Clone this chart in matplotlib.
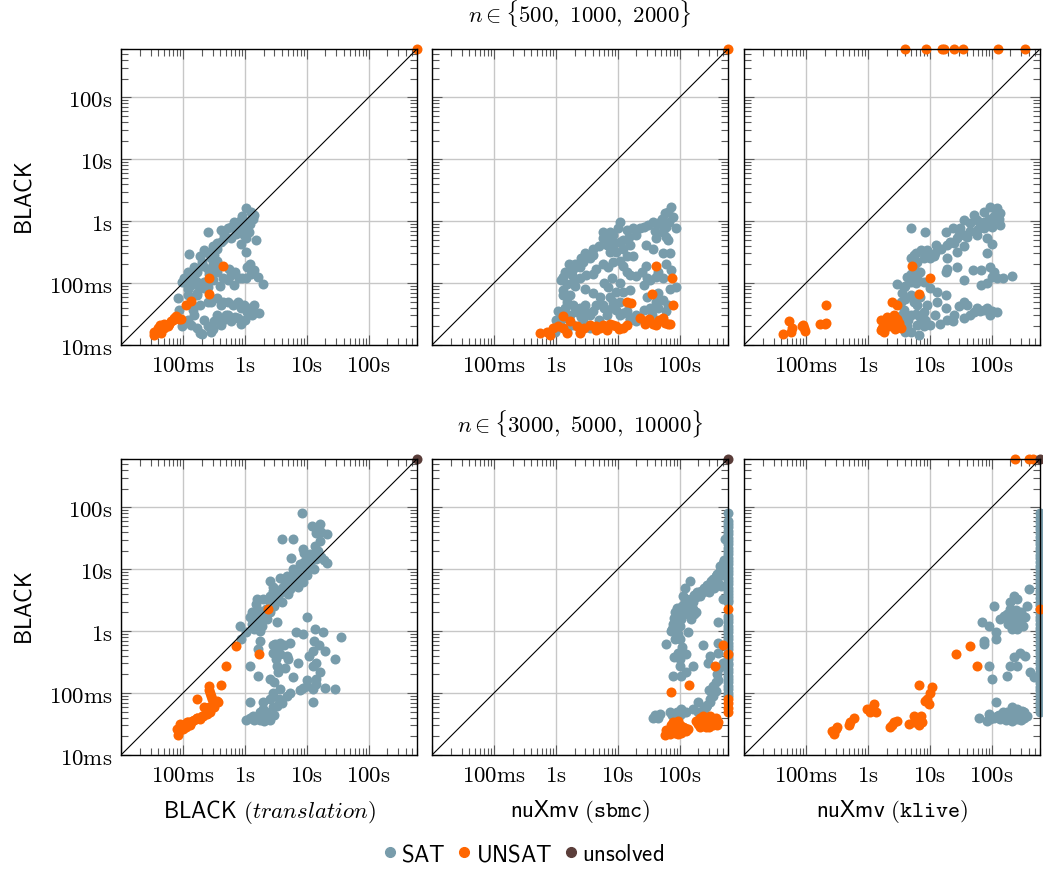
import numpy as np
import matplotlib
matplotlib.use("Agg")
import matplotlib.pyplot as plt
from matplotlib.ticker import FixedLocator, LogLocator, NullFormatter
from matplotlib.lines import Line2D

plt.rcParams["mathtext.fontset"] = "cm"

TIMEOUT = 600
SAT_COLOR = "#789cab"
UNSAT_COLOR = "#ff6600"
UNSOLVED_COLOR = "#5b3e3a"

tick_vals = [0.01, 0.1, 1, 10, 100]
tick_names = ["10ms", "100ms", "1s", "10s", "100s"]
row_titles = [r"$n \in \{500,\ 1000,\ 2000\}$", r"$n \in \{3000,\ 5000,\ 10000\}$"]
col_xlabels = [r"$\mathsf{BLACK}\ (\mathit{translation})$",
               r"$\mathsf{nuXmv}\ (\mathtt{sbmc})$",
               r"$\mathsf{nuXmv}\ (\mathtt{klive})$"]
ylabel = r"$\mathsf{BLACK}$"

# (other tool runtime [s], BLACK runtime [s])
# ---- n in {500, 1000, 2000}, BLACK (translation)
top_trans_sat = [
    (1.04, 1.6), (1.25, 1.41), (1.33, 1.1), (1.41, 1.25), (1.1, 0.98), (0.98, 0.76),
    (1.17, 0.67), (0.86, 1.04), (0.67, 0.98), (0.81, 0.81), (0.71, 0.63), (0.53, 0.76),
    (0.41, 0.71), (0.46, 0.59), (0.59, 0.53), (0.41, 0.46), (0.25, 0.67), (0.36, 0.36),
    (0.28, 0.32), (0.22, 0.34), (0.19, 0.27), (0.127, 0.29), (0.28, 0.25), (0.36, 0.23),
    (0.32, 0.19), (0.25, 0.17), (0.21, 0.19), (0.17, 0.15), (0.119, 0.15), (0.105, 0.119),
    (0.098, 0.105), (0.135, 0.093), (0.17, 0.105), (0.22, 0.082), (0.17, 0.064),
    (0.119, 0.064), (0.082, 0.057), (0.087, 0.037), (0.143, 0.037), (0.19, 0.044),
    (0.28, 0.05), (0.36, 0.057), (0.41, 0.044), (0.53, 0.05), (0.76, 0.05), (0.98, 0.044),
    (1.25, 0.0345), (1.7, 0.033), (0.76, 0.027), (0.53, 0.03), (0.41, 0.021), (0.32, 0.024),
    (0.25, 0.02), (0.17, 0.0186), (0.135, 0.021), (0.098, 0.02), (0.2, 0.015), (0.19, 0.0154),
    (0.28, 0.0164), (0.59, 0.024), (0.86, 0.022), (1.1, 0.0345), (1.41, 0.044), (1.1, 0.18),
    (1.25, 0.14), (1.6, 0.126), (1.93, 0.098), (1.04, 0.119), (0.81, 0.119), (0.67, 0.093),
    (1.04, 0.32), (0.86, 0.43), (1.5, 0.49), (1.04, 0.53), (0.59, 0.135), (0.53, 0.11),
    (0.36, 0.15), (0.26, 0.14), (0.22, 0.105),
    (0.9, 1.2), (1.2, 0.9), (1.3, 1.3), (0.95, 0.6), (0.75, 0.7), (0.6, 0.8), (0.5, 0.55),
    (0.45, 0.5), (0.35, 0.45), (0.3, 0.4), (0.32, 0.28), (0.25, 0.3), (0.2, 0.22), (0.15, 0.18),
    (0.13, 0.13), (0.11, 0.1), (0.15, 0.12), (0.3, 0.2), (0.18, 0.09), (0.12, 0.08), (0.25, 0.05),
    (0.45, 0.05), (0.65, 0.045), (0.85, 0.04), (1.2, 0.04), (0.5, 0.03), (0.7, 0.028),
    (1.0, 0.025), (0.35, 0.03), (0.22, 0.025), (0.15, 0.03), (0.12, 0.025), (0.3, 0.018),
    (0.45, 0.025), (1.3, 0.03), (0.14, 0.045), (0.55, 0.17), (0.7, 0.15), (0.9, 0.12),
    (1.2, 0.2), (1.4, 0.16), (0.45, 0.12), (0.4, 0.09), (0.3, 0.11), (0.17, 0.07), (0.25, 0.085),
]
top_trans_unsat = [
    (0.44, 0.19), (0.26, 0.119), (0.26, 0.067), (0.112, 0.044), (0.135, 0.051),
    (0.0725, 0.027), (0.087, 0.026), (0.064, 0.024), (0.05, 0.022), (0.044, 0.02),
    (0.039, 0.0186), (0.0345, 0.0164), (0.0345, 0.0145), (0.044, 0.0154), (0.057, 0.02),
    (0.077, 0.029), (0.093, 0.026), (0.042, 0.021), (0.05, 0.0186), (0.06, 0.022),
    (0.068, 0.025), (TIMEOUT, TIMEOUT),
]
top_trans_unsolved = []

# ---- n in {500, 1000, 2000}, nuXmv (sbmc)
top_sbmc_sat = [
    (73, 1.7), (64, 1.41), (78, 1.17), (57, 1.33), (51, 1.1), (45, 0.92), (60, 0.81),
    (54, 0.67), (37, 0.98), (31, 0.86), (26, 0.81), (22.6, 0.76), (17.7, 0.76), (13.8, 0.71),
    (10.8, 0.98), (10, 0.76), (8.4, 0.59), (7.4, 0.67), (5.8, 0.67), (5.8, 0.53), (6.6, 0.41),
    (8.4, 0.41), (10.8, 0.46), (12.2, 0.36), (9.5, 0.32), (7.4, 0.32), (15.6, 0.41),
    (17.7, 0.27), (13.8, 0.27), (10.8, 0.23), (8.4, 0.22), (7.0, 0.18), (5.8, 0.2), (4.5, 0.17),
    (4.0, 0.28), (3.5, 0.25), (2.76, 0.22), (2.44, 0.18), (1.9, 0.17), (1.79, 0.135),
    (1.31, 0.126), (1.49, 0.098), (1.9, 0.105), (2.44, 0.119), (3.1, 0.135), (4.0, 0.14),
    (1.31, 0.077), (1.31, 0.064), (1.68, 0.064), (1.49, 0.05), (1.9, 0.044), (2.44, 0.039),
    (3.1, 0.0345), (2.2, 0.0345), (1.68, 0.03), (1.31, 0.027), (4.0, 0.068), (5.1, 0.06),
    (7.4, 0.06), (7.0, 0.087), (9.5, 0.0725), (12.2, 0.0725), (15.6, 0.077), (13.8, 0.15),
    (15.6, 0.135), (10.8, 0.05), (8.4, 0.05), (5.8, 0.044), (4.5, 0.044), (3.5, 0.03),
    (2.76, 0.025), (1.9, 0.021), (1.49, 0.0186), (1.16, 0.022), (1.02, 0.025), (0.96, 0.0164),
    (1.49, 0.0164), (2.44, 0.0164), (3.5, 0.0186), (6.6, 0.03), (9.5, 0.037), (12.2, 0.033),
    (15.6, 0.027), (26, 0.037), (33, 0.039), (42, 0.05), (54, 0.053), (64, 0.044), (26, 0.093),
    (33, 0.11), (42, 0.126), (54, 0.119), (73, 0.16), (88, 0.087), (29, 0.19), (54, 0.3),
    (37, 0.36), (29, 0.41), (42, 0.53), (60, 0.56), (68, 0.98), (88, 0.76), (12.2, 0.19),
    (15.6, 0.025), (20, 0.024),
    (50, 0.9), (40, 0.7), (20, 0.6), (15, 0.55), (12, 0.5), (9, 0.45), (7, 0.5), (5, 0.4),
    (4, 0.35), (3, 0.3), (2.5, 0.25), (2, 0.2), (1.6, 0.2), (1.4, 0.15), (1.2, 0.11), (2.0, 0.09),
    (3, 0.08), (6, 0.1), (8, 0.12), (11, 0.1), (20, 0.13), (25, 0.15), (30, 0.12), (45, 0.15),
    (60, 0.2), (70, 0.3), (65, 0.5), (2, 0.04), (3, 0.045), (4, 0.035), (6, 0.04), (8, 0.04),
    (11, 0.03), (14, 0.035), (20, 0.03), (35, 0.03), (45, 0.04), (60, 0.035), (1.1, 0.035),
    (1.4, 0.04), (2.5, 0.028), (5, 0.025), (30, 0.06), (45, 0.07), (70, 0.08),
]
top_sbmc_unsat = [
    (42, 0.19), (75, 0.119), (36, 0.067), (13.8, 0.05), (16.6, 0.047), (78, 0.044),
    (1.31, 0.029), (0.55, 0.0154), (0.71, 0.016), (0.8, 0.0145), (0.91, 0.0186), (1.31, 0.0186),
    (1.68, 0.024), (2.2, 0.02), (2.44, 0.0154), (1.49, 0.0154), (4.5, 0.02), (5.8, 0.021),
    (7.4, 0.022), (9.5, 0.02), (12.2, 0.0186), (5.1, 0.0186), (6.6, 0.0175), (8.4, 0.021),
    (4.5, 0.0175), (22.6, 0.027), (29, 0.024), (37, 0.022), (47, 0.025), (54, 0.027),
    (64, 0.022), (42, 0.021), (27, 0.022), (1.1, 0.02), (2.8, 0.019), (3.5, 0.021),
    (10.5, 0.018), (14, 0.021), (32, 0.026), (58, 0.023), (70, 0.022), (TIMEOUT, TIMEOUT),
]
top_sbmc_unsolved = []

# ---- n in {500, 1000, 2000}, nuXmv (klive)
top_klive_sat = [
    (95, 1.7), (122, 1.47), (138, 1.33), (74, 1.41), (51, 1.25), (58, 1.04), (74, 0.98),
    (101, 1.04), (138, 0.86), (45, 0.92), (35, 1.04), (31, 0.76), (24, 0.76), (35, 0.59),
    (27.6, 0.53), (21.5, 0.46), (18, 0.67), (19.2, 0.41), (35, 0.39), (58, 0.59), (84, 0.53),
    (101, 0.43), (74, 0.76), (4.9, 0.76), (8.5, 0.67), (12.4, 0.41), (9.0, 0.34), (7.1, 0.34),
    (5.5, 0.28), (4.9, 0.25), (6.2, 0.22), (8.0, 0.25), (11.6, 0.27), (19.2, 0.25), (18, 0.15),
    (19.2, 0.17), (27.6, 0.18), (35, 0.11), (66, 0.16), (95, 0.18), (101, 0.126), (84, 0.1),
    (122, 0.119), (213, 0.13), (66, 0.093), (4.3, 0.126), (3.0, 0.098), (3.8, 0.087),
    (4.9, 0.105), (6.2, 0.126), (8.0, 0.105), (10.2, 0.082), (13, 0.0725), (18, 0.064),
    (13, 0.05), (4.9, 0.064), (3.4, 0.05), (3.8, 0.037), (4.9, 0.03), (3.4, 0.027), (6.2, 0.044),
    (8.0, 0.0345), (8.5, 0.025), (6.2, 0.021), (4.3, 0.02), (3.0, 0.024), (4.9, 0.0164),
    (6.6, 0.0145), (10.2, 0.021), (14.8, 0.022), (19.2, 0.025), (24, 0.024), (35, 0.027),
    (35, 0.05), (40, 0.044), (51, 0.0345), (74, 0.037), (95, 0.03), (122, 0.0345), (58, 0.039),
    (18, 0.039), (27.6, 0.32), (84, 0.3),
    (110, 1.2), (90, 1.1), (80, 0.85), (65, 0.8), (45, 0.7), (40, 0.55), (30, 0.6), (25, 0.45),
    (15, 0.35), (12, 0.3), (10, 0.25), (6, 0.3), (5.5, 0.18), (7, 0.15), (5, 0.14), (6, 0.1),
    (4, 0.09), (3.5, 0.07), (4, 0.055), (5.5, 0.05), (7, 0.06), (9, 0.045), (6, 0.032), (7, 0.028),
    (4.5, 0.025), (3.5, 0.03), (12, 0.03), (25, 0.03), (45, 0.03), (65, 0.035), (85, 0.04),
    (100, 0.035), (30, 0.042), (8, 0.02), (4, 0.016), (120, 1.6), (130, 1.1), (100, 0.8),
    (60, 0.75), (50, 0.16), (150, 0.12), (110, 0.15),
]
top_klive_unsat = [
    (5.2, 0.19), (9.9, 0.119), (6.6, 0.067), (0.21, 0.044), (0.053, 0.024), (0.042, 0.015),
    (0.057, 0.016), (0.087, 0.02), (0.093, 0.0186), (0.17, 0.022), (0.21, 0.023), (2.47, 0.05),
    (3.0, 0.044), (1.6, 0.025), (1.81, 0.021), (1.6, 0.0175), (2.05, 0.027), (2.6, 0.025),
    (2.3, 0.022), (3.0, 0.026), (1.81, 0.0164), (3.4, 0.0186), (2.2, 0.02), (2.7, 0.018),
    (1.9, 0.023), (2.4, 0.026), (2.9, 0.022), (1.7, 0.019), (3.2, 0.023), (2.0, 0.028),
    (2.6, 0.03), (0.09, 0.021), (0.095, 0.017), (0.06, 0.019), (0.2, 0.022),
    (4.0, TIMEOUT), (8.7, TIMEOUT), (15.6, TIMEOUT), (17, TIMEOUT), (24.6, TIMEOUT),
    (34, TIMEOUT), (126, TIMEOUT), (340, TIMEOUT),
]
top_klive_unsolved = []

# ---- n in {3000, 5000, 10000}, BLACK (translation)
bot_trans_sat = [
    (8.5, 82), (11.9, 50), (16.2, 54), (14.3, 39), (20.8, 36.6), (16.2, 28.6), (3.9, 30.5),
    (6.0, 31), (13.5, 23.8), (8.7, 21), (11.2, 17.4), (14.3, 14.5), (20.8, 12.8), (5.65, 15.4),
    (7.8, 12.0), (9.9, 10), (6.0, 10), (6.8, 6.9), (4.7, 7.8), (3.67, 7.3), (2.53, 6.5),
    (2.86, 5.1), (3.9, 4.76), (5.3, 4.76), (7.2, 5.1), (8.7, 6.1), (3.24, 3.7), (2.53, 3.7),
    (1.97, 3.28), (1.54, 3.28), (1.54, 2.26), (1.36, 1.66), (1.75, 1.38), (2.24, 1.56),
    (3.24, 1.38), (1.2, 1.66), (0.83, 1.22), (1.06, 0.95), (0.88, 0.74), (1.75, 1.0), (1.75, 0.7),
    (1.64, 0.51), (3.05, 0.62), (3.67, 0.65), (5.3, 0.64), (2.86, 0.45), (3.67, 0.43), (4.7, 0.4),
    (6.8, 0.95), (8.7, 0.9), (9.9, 1.66), (13.5, 1.08), (18.3, 0.95), (36, 0.79), (12.7, 0.48),
    (19.5, 0.47), (28, 0.35), (7.2, 0.3), (12.7, 0.27), (16.2, 0.215), (14.3, 0.168), (9.9, 0.16),
    (12.7, 0.116), (8.7, 0.12), (7.8, 0.11), (19.5, 0.12), (28, 0.116), (12.7, 0.071), (6.0, 0.18),
    (3.24, 0.27), (3.4, 0.215), (2.53, 0.168), (1.2, 0.27), (1.64, 0.19), (1.2, 0.071),
    (2.86, 0.102), (3.67, 0.116), (4.7, 0.09), (2.53, 0.08), (3.24, 0.062), (1.97, 0.071),
    (1.75, 0.049), (1.36, 0.043), (1.06, 0.037), (1.75, 0.037), (2.53, 0.037), (1.97, 0.055),
    (5.3, 0.102),
    (1.3, 1.3), (1.5, 1.6), (1.8, 1.9), (2.2, 2.3), (2.5, 3), (3, 3.2), (3.5, 4), (4, 5),
    (4.5, 6), (5, 7), (6, 8.5), (7, 9), (8, 11), (9, 13), (10, 15), (11, 12), (12, 14), (13, 17),
    (15, 20), (17, 16), (19, 14), (13, 10), (10, 8), (8, 7.5), (6.5, 5.5), (5, 4), (4, 3),
    (3, 2.5), (2.5, 2), (2, 1.7), (1.6, 1.4), (1.4, 1.1), (1.9, 1.2), (1.5, 2.7), (1.3, 2.0),
    (2.8, 4.5), (14, 45), (17, 40), (9, 18),
    (3.5, 0.55), (4.2, 0.6), (2.8, 0.6), (3.2, 0.35), (5, 0.35), (4.5, 0.25), (3, 0.15),
    (3.5, 0.08), (4, 0.07), (2.8, 0.06), (2.2, 0.05), (2.2, 0.04), (1.5, 0.04), (1.2, 0.04),
    (1.4, 0.037), (2.0, 0.035), (3.0, 0.045), (14, 0.14), (10, 0.13), (16, 0.6), (13, 0.7),
    (11, 0.4), (14, 0.3),
]
bot_trans_unsat = [
    (2.38, 2.26), (1.7, 0.43), (0.73, 0.57), (0.5, 0.27), (0.41, 0.136), (0.26, 0.128),
    (0.17, 0.08), (0.27, 0.1), (0.29, 0.08), (0.37, 0.071), (0.27, 0.049), (0.21, 0.043),
    (0.166, 0.04), (0.14, 0.036), (0.115, 0.034), (0.09, 0.032), (0.079, 0.026), (0.084, 0.021),
    (0.1, 0.026), (0.13, 0.03), (0.19, 0.038), (0.24, 0.046), (0.31, 0.066), (0.22, 0.059),
    (0.1, 0.03), (0.12, 0.034), (0.15, 0.037), (0.17, 0.04), (0.09, 0.028), (0.085, 0.024),
    (0.11, 0.028), (0.13, 0.032), (0.2, 0.042), (0.26, 0.06), (0.28, 0.09), (0.26, 0.11),
    (0.32, 0.06), (0.35, 0.075),
]
bot_trans_unsolved = [(TIMEOUT, TIMEOUT)]

# ---- n in {3000, 5000, 10000}, nuXmv (sbmc)
bot_sbmc_column = [82, 60, 54, 48, 42, 37, 32, 28.5, 25.5, 22, 20, 17.5, 15.4, 13.5, 12, 10.6,
                   9.4, 8.3, 7.3, 6.4, 5.7, 5.0, 4.5, 3.9, 3.5, 3.2, 2.9, 1.77, 1.55, 1.38,
                   1.2, 1.08, 0.95, 0.84, 0.74, 0.65, 0.57, 0.51, 0.45, 0.4, 0.35, 0.31, 0.28,
                   0.245, 0.215, 0.19, 0.17, 0.15, 0.13, 0.116, 0.1, 0.09]
bot_sbmc_sat = [
    (530, 30.5), (500, 12.8), (442, 11.3), (470, 5.4), (500, 3.3), (390, 7.8), (345, 6.5),
    (305, 5.4), (269, 4.76), (238, 4.2), (210, 3.7), (186, 3.5), (164, 2.9), (145, 2.56),
    (128, 2.26), (113, 2.0), (100, 1.77), (88, 1.67), (83, 1.47), (78, 1.3), (88, 1.22),
    (106, 2.1), (145, 6.5), (120, 5.0), (113, 3.7), (128, 3.3), (164, 2.26), (186, 2.0),
    (136, 1.88), (154, 1.56), (106, 1.56), (136, 0.95), (73, 1.0), (60, 0.63), (83, 0.74),
    (100, 0.75), (238, 0.59), (94, 0.45), (128, 0.43), (415, 0.65), (415, 0.45), (305, 0.4),
    (287, 0.31), (415, 1.38), (100, 0.27), (164, 0.27), (128, 0.215), (78, 0.19), (106, 0.19),
    (415, 0.16), (198, 0.071), (325, 0.09), (390, 0.108), (305, 0.071), (269, 0.059),
    (238, 0.049), (305, 0.08), (37, 0.04), (48, 0.046), (69, 0.049), (88, 0.043), (106, 0.055),
    (128, 0.049), (164, 0.055), (198, 0.049),
    (75, 1.1), (80, 1.6), (85, 2), (90, 2.4), (95, 1.8), (110, 2.5), (120, 3), (130, 2.8),
    (150, 3.3), (170, 3.8), (190, 4.2), (220, 4.5), (250, 5), (280, 5.5), (320, 6.5), (350, 7),
    (400, 8.5), (450, 9.5), (500, 10.5), (520, 14), (480, 8), (420, 6), (360, 5), (300, 4.3),
    (100, 1.2), (95, 0.9), (170, 1.9), (140, 2.2),
    (300, 0.11), (350, 0.13), (380, 0.15), (400, 0.2), (430, 0.25), (350, 0.09), (280, 0.065),
    (250, 0.06), (40, 0.045), (45, 0.04), (75, 0.045), (90, 0.05), (100, 0.045), (115, 0.05),
    (500, 0.3), (80, 0.38), (110, 0.55), (100, 0.35),
] + [(TIMEOUT, v) for v in bot_sbmc_column]
bot_sbmc_unsat = [
    (500, 0.59), (TIMEOUT, 2.26), (TIMEOUT, 0.43), (366, 0.27), (142, 0.135), (71, 0.104),
    (TIMEOUT, 0.08), (TIMEOUT, 0.068), (TIMEOUT, 0.058), (TIMEOUT, 0.05),
    (57, 0.021), (69, 0.026), (78, 0.034), (88, 0.03), (100, 0.026), (113, 0.028), (128, 0.0245),
    (65, 0.023), (83, 0.023), (106, 0.023), (136, 0.026), (94, 0.036), (73, 0.03),
    (186, 0.036), (210, 0.04), (238, 0.043), (269, 0.038), (305, 0.043), (345, 0.038),
    (390, 0.04), (415, 0.034), (305, 0.032), (238, 0.032), (198, 0.032), (269, 0.028),
    (345, 0.03), (210, 0.028),
    (70, 0.022), (80, 0.028), (90, 0.025), (100, 0.03), (110, 0.025), (120, 0.027), (60, 0.025),
    (75, 0.03), (95, 0.022), (220, 0.035), (250, 0.04), (280, 0.036), (320, 0.033), (360, 0.035),
    (380, 0.036), (230, 0.03), (260, 0.03), (300, 0.028), (340, 0.032), (400, 0.03),
]
bot_sbmc_unsolved = [(TIMEOUT, TIMEOUT)]

# ---- n in {3000, 5000, 10000}, nuXmv (klive)
bot_klive_column = [82, 66, 58, 50, 44, 38, 33, 29, 25.5, 22, 19.5, 17, 15, 13, 11.4, 10, 8.8,
                    7.7, 6.7, 5.9, 5.1, 4.5, 3.9, 3.4, 3.0, 2.6, 2.26, 1.97, 1.72, 1.5, 1.3,
                    1.14, 1.0, 0.87, 0.76, 0.66, 0.58, 0.5, 0.44, 0.38, 0.33, 0.29, 0.25, 0.22,
                    0.19, 0.165, 0.145, 0.125, 0.11, 0.095, 0.083, 0.072, 0.063, 0.055, 0.049]
bot_klive_sat = [
    (395, 4.8), (226, 3.7), (256, 3.3), (200, 2.9), (156, 1.77), (177, 1.88), (200, 1.56),
    (241, 2.0), (272, 1.67), (290, 1.38), (226, 1.22), (256, 1.08), (349, 1.67), (371, 2.56),
    (200, 2.26), (138, 1.56), (108, 2.56), (70, 1.38), (89, 1.22), (115, 0.95), (115, 0.74),
    (74, 0.7), (74, 0.62), (226, 0.38), (290, 0.45), (349, 0.4), (200, 0.27), (256, 0.27),
    (89, 0.27), (177, 0.19), (101, 0.17), (420, 0.215), (475, 0.18), (119, 0.071), (62, 0.04),
    (89, 0.046), (95, 0.038), (122, 0.043), (138, 0.038), (177, 0.049), (200, 0.04),
    (226, 0.049), (256, 0.038), (308, 0.052), (328, 0.04), (156, 0.04), (371, 0.043),
    (256, 0.055), (213, 0.059), (85, 0.036),
    (220, 1.5), (240, 1.3), (260, 1.5), (280, 1.8), (300, 1.5), (230, 1.7), (270, 1.2),
    (250, 2.2), (300, 2.0), (180, 1.3), (210, 1.1), (320, 1.2),
    (90, 0.04), (110, 0.04), (130, 0.045), (150, 0.05), (190, 0.045), (240, 0.042),
    (280, 0.045), (330, 0.05), (170, 0.037), (210, 0.036), (260, 0.044), (300, 0.037),
] + [(TIMEOUT, v) for v in bot_klive_column]
bot_klive_unsat = [
    (26, 0.43), (44, 0.57), (58, 0.27), (6.6, 0.135), (10.9, 0.123), (10.2, 0.102), (8.85, 0.08),
    (9.6, 0.066), (8.5, 0.075), (0.98, 0.055), (1.25, 0.066), (1.33, 0.049), (1.1, 0.049),
    (1.17, 0.058), (0.59, 0.04), (0.52, 0.034), (0.49, 0.03), (0.3, 0.026), (0.28, 0.0218),
    (0.32, 0.028), (0.265, 0.0245), (2.3, 0.028), (2.6, 0.034), (3.0, 0.036), (2.47, 0.03),
    (4.6, 0.032), (5.5, 0.043), (6.2, 0.038), (7.1, 0.043), (7.5, 0.034), (6.6, 0.03),
    (5.5, 0.034), (TIMEOUT, 2.26), (234, TIMEOUT), (400, TIMEOUT), (460, TIMEOUT),
]
bot_klive_unsolved = [(TIMEOUT, TIMEOUT)]

panels = [
    [(top_trans_sat, top_trans_unsat, top_trans_unsolved),
     (top_sbmc_sat, top_sbmc_unsat, top_sbmc_unsolved),
     (top_klive_sat, top_klive_unsat, top_klive_unsolved)],
    [(bot_trans_sat, bot_trans_unsat, bot_trans_unsolved),
     (bot_sbmc_sat, bot_sbmc_unsat, bot_sbmc_unsolved),
     (bot_klive_sat, bot_klive_unsat, bot_klive_unsolved)],
]

W, H = 1043, 870
fig = plt.figure(figsize=(W / 100, H / 100), dpi=100)
lefts = [121, 432, 744]
tops = [50, 460]
size = 296
fs = 16.5
ms = 52

for r in range(2):
    for c in range(3):
        ax = fig.add_axes([lefts[c] / W, (H - tops[r] - size) / H, size / W, size / H])
        ax.set_xscale("log")
        ax.set_yscale("log")
        ax.set_xlim(0.01, TIMEOUT)
        ax.set_ylim(0.01, TIMEOUT)
        ax.grid(True, which="major", color="0.78", lw=1.0, zorder=0)
        ax.set_axisbelow(True)
        for pts, col in zip(panels[r][c], [SAT_COLOR, UNSAT_COLOR, UNSOLVED_COLOR]):
            if len(pts) == 0:
                continue
            arr = np.array(pts)
            ax.scatter(arr[:, 0], arr[:, 1], s=ms, color=col, linewidths=0,
                       clip_on=False, zorder=3)
        ax.plot([0.01, TIMEOUT], [0.01, TIMEOUT], color="black", lw=0.8, zorder=4)

        ax.xaxis.set_major_locator(FixedLocator(tick_vals))
        ax.yaxis.set_major_locator(FixedLocator(tick_vals))
        ax.xaxis.set_minor_locator(LogLocator(base=10, subs=np.arange(2, 10), numticks=20))
        ax.yaxis.set_minor_locator(LogLocator(base=10, subs=np.arange(2, 10), numticks=20))
        ax.xaxis.set_minor_formatter(NullFormatter())
        ax.yaxis.set_minor_formatter(NullFormatter())
        ax.set_xticklabels([""] + [r"$\mathrm{%s}$" % t for t in tick_names[1:]], fontsize=fs)
        if c == 0:
            ax.set_yticklabels([r"$\mathrm{%s}$" % t for t in tick_names], fontsize=fs)
            ax.set_ylabel(ylabel, fontsize=fs, labelpad=9)
        else:
            ax.set_yticklabels([])
        ax.tick_params(which="both", direction="in", top=True, right=True,
                       color="0.35", width=0.8)
        ax.tick_params(which="major", length=7, pad=6)
        ax.tick_params(which="minor", length=5)
        for sp in ax.spines.values():
            sp.set_linewidth(1.0)
            sp.set_zorder(5)
        if r == 1:
            ax.set_xlabel(col_xlabels[c], fontsize=fs, labelpad=8)
        if c == 1:
            ax.set_title(row_titles[r], fontsize=fs, pad=20)

handles = [Line2D([], [], marker="o", ls="", color=col, markersize=7)
           for col in [SAT_COLOR, UNSAT_COLOR, UNSOLVED_COLOR]]
fig.legend(handles, [r"$\mathsf{SAT}$", r"$\mathsf{UNSAT}$", r"$\mathsf{unsolved}$"],
           loc="center", bbox_to_anchor=(0.5, 15 / H), ncol=3, frameon=False,
           fontsize=fs, handletextpad=0.0, columnspacing=0.3, handlelength=1.0)

fig.savefig("out.png", dpi=100)
